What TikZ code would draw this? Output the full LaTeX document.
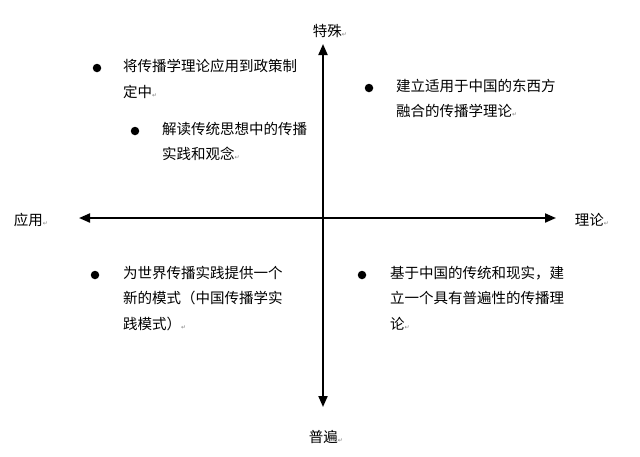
\documentclass[tikz,border=0pt]{standalone}
\usepackage{fontspec}
\setmainfont{Noto Sans CJK SC}
\newfontfamily\symfont{DejaVu Sans}
\usetikzlibrary{arrows.meta}
\newcommand\retmark{{\symfont\fontsize{6}{6}\selectfont\textcolor{gray}{↵}}}
\tikzset{
  axis/.style={line width=2pt, {Triangle[length=11pt,width=9pt]}-{Triangle[length=11pt,width=9pt]}},
  lbl/.style={font=\fontsize{14.5}{25}\selectfont, inner sep=0pt},
  item/.style={font=\fontsize{14.5}{25.5}\selectfont, inner sep=0pt, anchor=north west, align=left},
  dot/.style={circle, fill=black, inner sep=0pt, minimum size=8.5pt}
}
\begin{document}
\begin{tikzpicture}[x=1pt,y=-1pt]
\useasboundingbox (0,0) rectangle (640,456);
\fill[white] (0,0) rectangle (640,456);
% axes
\coordinate (L) at (79,218);
\coordinate (R) at (556,218);
\coordinate (T) at (323,44);
\coordinate (B) at (323,407);
\draw[axis] (L) -- (R);
\draw[axis] (T) -- (B);
% axis labels
\node[lbl] (top) at (330,31) {特殊\retmark};
\node[lbl] (left) at (31,220) {应用\retmark};
\node[lbl] (right) at (592,220) {理论\retmark};
\node[lbl] (bottom) at (326,437) {普遍\retmark};
% items
\node[dot] (d1) at (97,68) {};
\node[item] (t1) at (123,59) {将传播学理论应用到政策制\\定中\retmark};
\node[dot] (d2) at (135,131) {};
\node[item] (t2) at (162,122) {解读传统思想中的传播\\实践和观念\retmark};
\node[dot] (d3) at (369,88) {};
\node[item] (t3) at (396,79) {建立适用于中国的东西方\\融合的传播学理论\retmark};
\node[dot] (d4) at (95,275) {};
\node[item] (t4) at (123,266) {为世界传播实践提供一个\\新的模式（中国传播学实\\践模式）\retmark};
\node[dot] (d5) at (362,275) {};
\node[item] (t5) at (390,266) {基于中国的传统和现实，建\\立一个具有普遍性的传播理\\论\retmark};
\end{tikzpicture}
\end{document}
